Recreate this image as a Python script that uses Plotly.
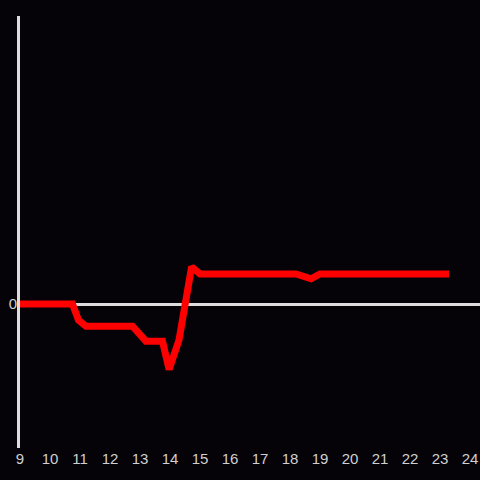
import plotly.graph_objects as go

x_vals = [9, 10.75, 10.95, 11.2, 12.75, 13.2, 13.75, 13.97, 14.3, 14.72, 15.0, 18.2, 18.7, 19.0, 23.3]
y_vals = [0, 0, -2.7, -3.7, -3.7, -6.2, -6.2, -10.9, -6.0, 6.2, 5.0, 5.0, 4.2, 5.0, 5.0]
x_ticks = list(range(9, 25))

fig = go.Figure()
fig.add_trace(go.Scatter(x=x_vals, y=y_vals, mode="lines",
                         line=dict(color="#ff0000", width=7), showlegend=False))

fig.update_layout(
    width=480, height=480,
    margin=dict(l=20, r=0, t=16, b=32),
    paper_bgcolor="#050307", plot_bgcolor="#050307",
    font=dict(family="Liberation Sans, Arial, sans-serif", size=15, color="#d0d0d0"),
    xaxis=dict(range=[9, 9 + 460 / 30], tickvals=x_ticks, showgrid=False, zeroline=False,
               showline=False, ticks=""),
    yaxis=dict(range=[-24, 48], tickvals=[0], showgrid=False, zeroline=True,
               zerolinecolor="#dddddd", zerolinewidth=3, showline=True,
               linecolor="#dddddd", linewidth=3, ticks="", ticklabelstandoff=-3),
)
fig.write_html("out.html", config={"displayModeBar": False},
               post_script="document.body.style.margin='0';document.body.style.background='#050307';")
